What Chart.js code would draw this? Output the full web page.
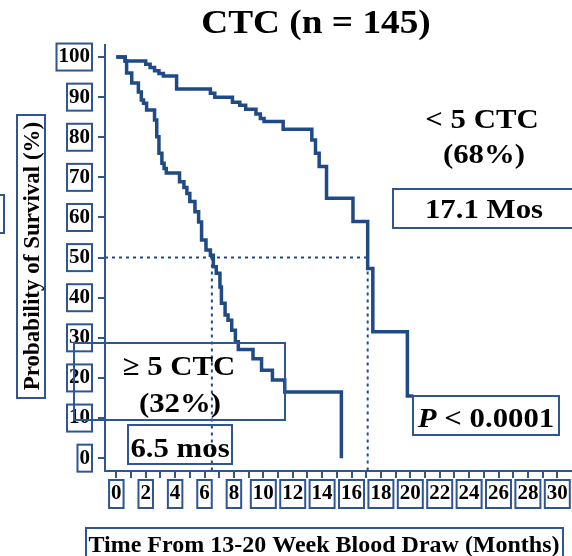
<!DOCTYPE html>
<html>
<head>
<meta charset="utf-8">
<script src="https://cdn.jsdelivr.net/npm/chart.js@4.4.1/dist/chart.umd.min.js"></script>
<style>
  html, body { margin: 0; padding: 0; background: #fff; }
  canvas { display: block; }
</style>
</head>
<body>
<canvas id="km" width="572" height="556"></canvas>
<script>
/* ===== data ===== */
// < 5 CTC group (upper curve)
const lowTimes = [0, 0.6, 2.0, 2.3, 2.6, 2.9, 3.2, 4.1, 6.4, 6.7, 7.9, 8.4, 8.8, 9.5, 9.8, 10.05,
  11.35, 13.3, 13.55, 13.8, 14.3, 16.1, 17.1, 17.45, 19.8, 20.2];
const lowSurv = [100, 99, 98.2, 97.4, 96.6, 95.9, 95.3, 92, 91, 90, 88.7, 88, 87, 85.8, 84.7, 83.9,
  82, 79.3, 76, 72.7, 64.8, 59, 47.3, 31.5, 15.5, 15.5];

// >= 5 CTC group (lower curve)
const highTimes = [0, 0.6, 0.7, 1.05, 1.5, 1.7, 1.85, 2.06, 2.6, 2.75, 2.9, 3.1, 3.25, 3.4, 4.3, 4.6,
  4.8, 5.0, 5.35, 5.6, 5.8, 6.1, 6.4, 6.6, 6.8, 7.05, 7.15, 7.4, 7.6, 7.85, 8.1, 8.3, 9.3, 9.88,
  10.62, 11.46, 15.31];
const highSurv = [100, 99, 96, 93.5, 91.3, 89.3, 88.5, 86.8, 84.3, 80.1, 76, 73.5, 72.2, 71.1, 68.9, 67.5,
  66, 64, 61.4, 58.9, 54.4, 51.9, 50.6, 47.7, 46.1, 42.7, 38.6, 35.7, 34.4, 31.9, 29, 27.1, 24.8, 21.9,
  19.5, 16.5, 0];

const medians = [6.5, 17.1];
const halfLevel = 50;

const xTicks = [0, 1, 2, 3, 4, 5, 6, 7, 8, 9, 10, 11, 12, 13, 14, 15, 16, 17, 18, 19, 20,
  21, 22, 23, 24, 25, 26, 27, 28, 29, 30];
const xLabels = ["0", "2", "4", "6", "8", "10", "12", "14", "16", "18", "20", "22", "24", "26", "28", "30"];
const yTicks = [0, 10, 20, 30, 40, 50, 60, 70, 80, 90, 100];

const xMin = -0.77, xMax = 31;
const yMin = -3.2, yMax = 103;

/* ===== styles ===== */
const NAVY = "#1f4a86";
const BOX = "#2f5592";
const SERIF = '"Liberation Serif", "Times New Roman", serif';

const pts = (xs, ys) => xs.map((x, i) => ({ x, y: ys[i] }));

function stretchText(ctx, s, x, y, font, sx, align) {
  ctx.save();
  ctx.font = font;
  ctx.translate(x, y);
  ctx.scale(sx, 1);
  ctx.textAlign = align || "center";
  ctx.textBaseline = "alphabetic";
  ctx.fillStyle = "#000";
  ctx.fillText(s, 0, 0);
  ctx.restore();
}

function box(ctx, x, y, w, h) {
  ctx.save();
  ctx.strokeStyle = BOX;
  ctx.lineWidth = 2;
  ctx.strokeRect(x, y, w, h);
  ctx.restore();
}

/* ===== decorations: titles, boxes, annotations ===== */
const decor = {
  id: "decor",
  afterDraw(chart) {
    const ctx = chart.ctx;
    const xs = chart.scales.x, ys = chart.scales.y;
    const area = chart.chartArea;

    // title
    stretchText(ctx, "CTC (n = 145)", 316, 33, "bold 33px " + SERIF, 1.13);

    // y axis title
    box(ctx, 17, 115, 28, 283);
    ctx.save();
    ctx.translate(39, 256);
    ctx.rotate(-Math.PI / 2);
    ctx.font = "bold 23px " + SERIF;
    ctx.textAlign = "center";
    ctx.textBaseline = "alphabetic";
    ctx.fillStyle = "#000";
    ctx.fillText("Probability of Survival (%)", 0, 0);
    ctx.restore();
    box(ctx, -20, 195, 24, 38);

    // x axis title
    box(ctx, 86, 528, 477, 30);
    stretchText(ctx, "Time From 13-20 Week Blood Draw (Months)", 324, 552, "bold 24px " + SERIF, 1.0);

    // boxes around tick labels
    ctx.font = "bold 21px " + SERIF;
    yTicks.forEach(v => {
      const py = ys.getPixelForValue(v);
      const w = ctx.measureText(String(v)).width;
      const right = area.left - 7 - 8;
      box(ctx, right - w - 2, py - 13.5, w + 4, 27);
    });
    xLabels.forEach(s => {
      const px = xs.getPixelForValue(Number(s));
      const w = ctx.measureText(s).width;
      box(ctx, px - w / 2 - 2, area.bottom + 9, w + 4, 28);
    });

    // group labels
    const big = "bold 28px " + SERIF;
    stretchText(ctx, "< 5 CTC", 482, 128, big, 1.1);
    stretchText(ctx, "(68%)", 484, 163, big, 1.1);
    box(ctx, 393, 189, 200, 39);
    stretchText(ctx, "17.1 Mos", 484, 218, big, 1.1);

    box(ctx, 74, 343, 211, 77);
    stretchText(ctx, "\u2265 5 CTC", 179, 375, big, 1.1);
    stretchText(ctx, "(32%)", 180, 412, big, 1.1);
    box(ctx, 128, 425, 104, 39);
    stretchText(ctx, "6.5 mos", 180, 457, big, 1.1);

    // p value, italic P
    box(ctx, 413, 396, 146, 39);
    ctx.save();
    ctx.font = "italic bold 28px " + SERIF;
    const wP = ctx.measureText("P").width * 1.1;
    ctx.font = big;
    const wR = ctx.measureText(" < 0.0001").width * 1.1;
    const x0 = 486 - (wP + wR) / 2;
    ctx.restore();
    stretchText(ctx, "P", x0, 427, "italic bold 28px " + SERIF, 1.1, "left");
    stretchText(ctx, " < 0.0001", x0 + wP, 427, big, 1.1, "left");
  }
};

/* ===== chart ===== */
new Chart(document.getElementById("km"), {
  type: "line",
  data: {
    datasets: [
      {
        label: "< 5 CTC",
        data: pts(lowTimes, lowSurv),
        stepped: true,
        borderColor: NAVY,
        borderWidth: 3.5,
        pointRadius: 0,
        fill: false,
        order: 1
      },
      {
        label: "\u2265 5 CTC",
        data: pts(highTimes, highSurv),
        stepped: true,
        borderColor: NAVY,
        borderWidth: 3.5,
        pointRadius: 0,
        fill: false,
        order: 1
      },
      {
        label: "half",
        data: [{ x: xMin, y: halfLevel }, { x: medians[1], y: halfLevel }],
        borderColor: NAVY,
        borderWidth: 2,
        borderDash: [3, 4],
        pointRadius: 0,
        order: 2
      },
      {
        label: "median high",
        data: [{ x: medians[0], y: halfLevel }, { x: medians[0], y: yMin }],
        borderColor: NAVY,
        borderWidth: 2,
        borderDash: [3, 4],
        pointRadius: 0,
        order: 2
      },
      {
        label: "median low",
        data: [{ x: medians[1], y: halfLevel }, { x: medians[1], y: yMin }],
        borderColor: NAVY,
        borderWidth: 2,
        borderDash: [3, 4],
        pointRadius: 0,
        order: 2
      }
    ]
  },
  options: {
    responsive: false,
    animation: false,
    devicePixelRatio: 1,
    layout: { padding: { top: 45, right: 0, bottom: 0, left: 0 } },
    plugins: {
      legend: { display: false },
      tooltip: { enabled: false },
      title: { display: false }
    },
    scales: {
      x: {
        type: "linear",
        min: xMin,
        max: xMax,
        afterBuildTicks: s => { s.ticks = xTicks.map(v => ({ value: v })); },
        afterFit: s => { s.height = 85; s.paddingLeft = 0; s.paddingRight = 0; },
        ticks: {
          autoSkip: false,
          maxRotation: 0,
          padding: 3,
          color: "#000",
          font: { family: SERIF, size: 21, weight: "bold" },
          callback: v => (xLabels.includes(String(v)) ? String(v) : "")
        },
        grid: { drawOnChartArea: false, drawTicks: true, tickLength: 7, color: BOX, lineWidth: 2 },
        border: { display: true, color: BOX, width: 2 }
      },
      y: {
        min: yMin,
        max: yMax,
        afterBuildTicks: s => { s.ticks = yTicks.map(v => ({ value: v })); },
        afterFit: s => { s.width = 105; s.paddingTop = 0; s.paddingBottom = 0; },
        ticks: {
          padding: 8,
          color: "#000",
          font: { family: SERIF, size: 21, weight: "bold" }
        },
        grid: { drawOnChartArea: false, drawTicks: true, tickLength: 7, color: BOX, lineWidth: 2 },
        border: { display: true, color: BOX, width: 2 }
      }
    }
  },
  plugins: [decor]
});
</script>
</body>
</html>
